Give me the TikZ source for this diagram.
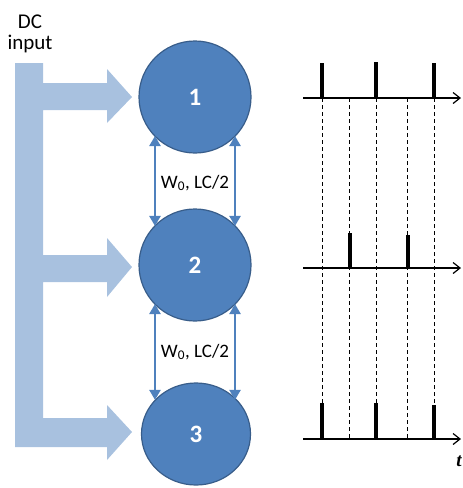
\documentclass[tikz,border=0pt]{standalone}
\usepackage{fontspec}
\setmainfont{Carlito}
\newfontfamily\tfont{Liberation Serif}
\usetikzlibrary{arrows.meta,shapes.geometric}
\definecolor{nodeblue}{RGB}{79,129,189}
\definecolor{nodeedge}{RGB}{56,93,138}
\definecolor{busblue}{RGB}{168,193,223}
\tikzset{
  osc/.style={circle,minimum size=112pt,inner sep=0pt,fill=nodeblue,draw=nodeedge,line width=1.2pt,
    text=white,font=\fontsize{25}{25}\selectfont\bfseries},
  bidir/.style={{Triangle[width=11pt,length=10pt]}-{Triangle[width=11pt,length=10pt]},draw=nodeblue,line width=2.3pt,shorten <=-1pt,shorten >=-1pt},
  lbl/.style={font=\fontsize{19}{19}\selectfont,text=black,inner sep=0pt},
  bus/.style={fill=busblue,draw=none},
  axis/.style={-{Straight Barb[length=7pt,width=11pt,line width=1.2pt]},line width=1.4pt,black},
  pulse/.style={line width=3.5pt,black},
  guide/.style={line width=0.9pt,black,dash pattern=on 4pt off 3pt}
}
\begin{document}
\begin{tikzpicture}[x=1pt,y=-1pt]
\useasboundingbox (0,0) rectangle (463,488);
% DC input label
\node[font=\fontsize{21}{22}\selectfont,align=center,inner sep=0pt] (dc) at (30,34) {DC\\[-1pt]input};
% bus bar and arrows
\fill[bus] (15,63) -- (43,63) -- (43,83) -- (107,83) -- (107,69) -- (132,97) -- (107,123) -- (107,110)
  -- (43,110) -- (43,255) -- (107,255) -- (107,238) -- (132,267) -- (107,297) -- (107,282) -- (43,282)
  -- (43,418) -- (107,418) -- (107,405) -- (132,432) -- (107,460) -- (107,447) -- (15,447) -- cycle;
% oscillators
\node[osc] (n1) at (195,97) {1};
\node[osc] (n2) at (195,265) {2};
\node[osc,ellipse,minimum width=109pt,minimum height=102pt] (n3) at (196,434) {3};
% couplings
\draw[bidir] (n1.-135) -- (n2.135);
\draw[bidir] (n1.-45) -- (n2.45);
\draw[bidir] (n2.-135) -- (n2.-135 |- n3.139);
\draw[bidir] (n2.-45) -- (n2.-45 |- n3.41);
\node[lbl] (c1) at (195,183) {W\textsubscript{0}, LC/2};
\node[lbl] (c2) at (195,352) {W\textsubscript{0}, LC/2};
% timing axes
\coordinate (a1s) at (303,98);  \coordinate (a1e) at (461,98);
\coordinate (a2s) at (303,268); \coordinate (a2e) at (461,268);
\coordinate (a3s) at (303,439); \coordinate (a3e) at (461,439);
\foreach \x in {322,349,376,407,434} \draw[guide] (\x,98) -- (\x,439);
\draw[axis] (a1s) -- (a1e);
\draw[axis] (a2s) -- (a2e);
\draw[axis] (a3s) -- (a3e);
% pulses
\draw[pulse] (322,63) -- (322,98);
\draw[pulse] (376,62) -- (376,98);
\draw[pulse] (434,63) -- (434,98);
\draw[pulse] (350,233) -- (350,268);
\draw[pulse] (408,235) -- (408,268);
\draw[pulse] (322,403) -- (322,439);
\draw[pulse] (376,403) -- (376,439);
\draw[pulse] (434,405) -- (434,439);
\node[font=\tfont\fontsize{19}{19}\selectfont\bfseries\itshape,inner sep=0pt] (tl) at (459,461) {t};
\end{tikzpicture}
\end{document}
